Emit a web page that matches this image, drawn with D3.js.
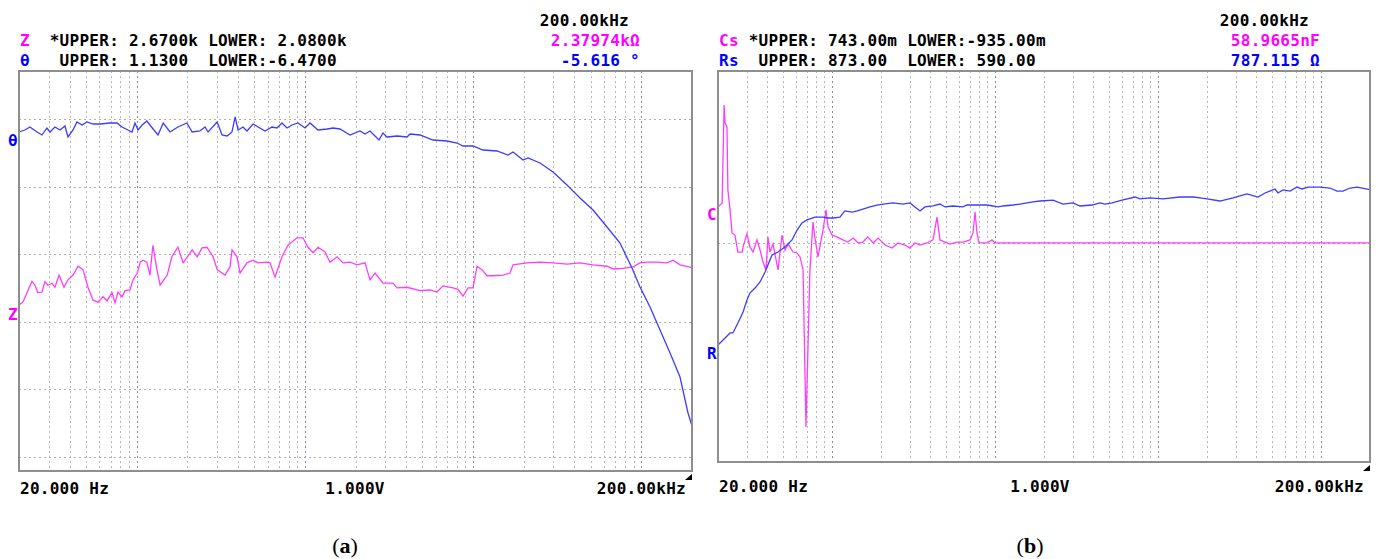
<!DOCTYPE html>
<html>
<head>
<meta charset="utf-8">
<style>
  body { margin: 0; background: #fff; }
  svg text.mono { font-family: "DejaVu Sans Mono", monospace; font-weight: bold; font-size: 16px; letter-spacing: 0.27px; }
  svg text.cap { font-family: "Liberation Serif", "DejaVu Serif", serif; font-size: 22px; }
</style>
</head>
<body>
<script src="https://d3js.org/d3.v7.min.js"></script>
<svg id="chart" width="1378" height="559"></svg>
<script>
// sweep readings, [frequency Hz, value]
// (a) impedance |Z| in kOhm and phase in degrees
var zA = [[20,2.325],[21.1,2.329],[22.3,2.343],[23.9,2.360],[24.9,2.354],[25.9,2.343],[27.4,2.344],[28.5,2.359],[29.7,2.354],[31.4,2.357],[32.7,2.351],[34.6,2.369],[37.0,2.351],[39.1,2.362],[41.9,2.369],[44.9,2.382],[48.0,2.377],[51.4,2.351],[55.1,2.332],[59.0,2.329],[63.1,2.337],[66.7,2.331],[71.4,2.343],[74.4,2.328],[77.5,2.344],[81.9,2.337],[85.3,2.346],[91.4,2.347],[95.2,2.362],[101,2.372],[105,2.388],[109,2.391],[115,2.388],[120,2.369],[125,2.413],[132,2.377],[138,2.354],[152,2.369],[162,2.396],[176,2.410],[189,2.387],[214,2.406],[229,2.396],[245,2.409],[262,2.410],[285,2.396],[301,2.377],[335,2.369],[359,2.381],[369,2.406],[395,2.396],[412,2.372],[453,2.387],[492,2.391],[527,2.387],[596,2.388],[621,2.387],[665,2.366],[731,2.396],[794,2.413],[898,2.424],[975,2.424],[1044,2.410],[1118,2.402],[1197,2.410],[1318,2.403],[1411,2.388],[1553,2.396],[1686,2.387],[1855,2.388],[2042,2.384],[2279,2.387],[2440,2.362],[2612,2.372],[2914,2.357],[3342,2.357],[3531,2.350],[4047,2.351],[4835,2.346],[5544,2.347],[6102,2.344],[6624,2.353],[7596,2.350],[8135,2.348],[8710,2.338],[9326,2.350],[9986,2.350],[10550,2.382],[11290,2.377],[12090,2.368],[13130,2.368],[15060,2.369],[16570,2.372],[17270,2.384],[20910,2.387],[24980,2.388],[29850,2.387],[36150,2.385],[43210,2.387],[51610,2.384],[62510,2.382],[67860,2.378],[77800,2.379],[89190,2.381],[98180,2.387],[108100,2.388],[123900,2.388],[142100,2.387],[154200,2.391],[169700,2.384],[200000,2.380]];

var thetaA = [[20,-0.029],[21.7,0.009],[23.2,0.066],[25.6,-0.029],[27.4,-0.086],[29.3,0.047],[30.6,-0.029],[32.7,0.066],[35.1,0.009],[37.5,0.085],[39.1,-0.124],[41.9,0.009],[44.2,0.161],[47.4,0.104],[50.7,0.161],[55.1,0.123],[60.6,0.123],[69.5,0.142],[76.5,0.142],[81.9,0.066],[88.9,0.009],[93.9,-0.029],[97.8,0.142],[102,0.009],[108,0.104],[115,0.18],[124,0.047],[134,-0.086],[144,0.142],[158,-0.029],[176,0.066],[199,0.142],[214,-0.029],[238,-0.01],[255,0.066],[266,-0.029],[301,0.161],[322,-0.086],[345,-0.105],[369,-0.029],[385,0.256],[401,0.009],[429,0.066],[453,-0.01],[492,0.123],[527,0.066],[580,-0.01],[638,0.066],[683,0.047],[731,0.142],[783,0.047],[839,0.104],[911,0.142],[1002,0.047],[1073,0.142],[1197,0.009],[1354,0.028],[1470,0.047],[1618,0.028],[1733,-0.029],[1855,-0.086],[2128,-0.01],[2279,-0.067],[2440,-0.01],[2612,-0.105],[2759,-0.181],[2914,-0.048],[3078,-0.124],[3531,-0.105],[4047,-0.124],[4217,-0.067],[4835,-0.086],[5777,-0.181],[6998,-0.2],[8025,-0.238],[8710,-0.295],[9986,-0.295],[11450,-0.371],[13870,-0.39],[16120,-0.466],[17270,-0.409],[19800,-0.561],[21200,-0.523],[24980,-0.618],[29850,-0.789],[36150,-1.036],[43210,-1.283],[51610,-1.511],[62510,-1.834],[74660,-2.138],[87990,-2.613],[98180,-2.974],[112600,-3.354],[129100,-3.791],[148100,-4.228],[169700,-4.684],[189400,-5.368],[200000,-5.616]];

// (b) series capacitance (screen units) and series resistance in Ohm
var csB = [[20,0.159],[21.2,0.177],[21.8,0.597],[22.1,0.520],[22.7,0.503],[23.0,0.232],[23.7,0.147],[24.4,0.048],[25.4,0.039],[26.5,-0.034],[28.1,-0.034],[28.5,-0.012],[30.1,0.044],[31.4,-0.012],[32.8,-0.034],[34.7,0.018],[36.2,-0.025],[37.8,-0.077],[39.4,-0.111],[40.5,0.031],[41.7,-0.034],[43.5,0.001],[46.7,-0.111],[49.4,0.039],[51.5,-0.025],[53.8,0.001],[57.7,-0.034],[61.1,-0.038],[63.7,-0.055],[66.5,-0.111],[69.3,-0.785],[73.3,-0.111],[76.5,0.095],[78.7,0.026],[82.1,-0.055],[88.2,0.061],[92.0,0.147],[94.6,0.074],[100.1,0.039],[107,0.031],[117,0.018],[125,0.009],[135,0.026],[145,0.005],[155,0.009],[166,0.031],[179,0.005],[192,0.026],[212,-0.004],[234,-0.017],[254,0.005],[281,-0.004],[301,-0.017],[323,0.005],[347,-0.004],[383,0.005],[417,0.018],[441,0.116],[460,0.018],[494,0.009],[530,0.0],[585,0.009],[637,0.009],[703,0.018],[734,0.048],[755,0.138],[776,0.048],[799,0.005],[894,0.005],[959,0.018],[1001,0.005],[200000,0.005]];

var rsB = [[20,674.7],[22.1,679.7],[23.7,683.4],[24.7,683.4],[26.5,690.6],[28.5,698.6],[30.1,707.2],[31.4,712.3],[33.7,715.9],[36.2,720.3],[38.9,727.5],[40.0,731.1],[42.9,739.8],[46.7,742.0],[51.5,745.6],[56.9,750.7],[61.1,757.9],[65.5,763.0],[70.3,765.2],[78.7,767.3],[88.2,767.3],[94.6,766.6],[101.5,766.6],[112,767.3],[120,771.7],[133,770.9],[143,771.7],[155,773.1],[171,774.6],[189,776.0],[206,776.7],[237,777.5],[273,776.7],[301,777.5],[323,774.6],[347,771.7],[372,774.6],[417,775.3],[460,776.7],[494,774.6],[553,775.3],[637,774.6],[674,776.0],[776,776.0],[894,776.0],[973,775.3],[1045,774.6],[1121,775.3],[1291,776.0],[1425,776.7],[1573,777.5],[1712,778.2],[1890,778.9],[2271,779.6],[2616,776.7],[3013,777.5],[3327,775.3],[3941,776.0],[4413,777.5],[4733,776.7],[5228,777.5],[6021,779.6],[7231,781.8],[7763,780.4],[8941,781.1],[10740,780.4],[13660,781.8],[16410,781.8],[18120,781.1],[20000,780.4],[24040,778.9],[28880,781.1],[35200,784.0],[41110,781.8],[45390,784.7],[52280,787.6],[54530,784.7],[58520,786.9],[64610,786.1],[71310,789.0],[76520,787.6],[83300,789.0],[98700,789.0],[113700,788.3],[125500,786.1],[136600,786.1],[150800,788.3],[166500,789.0],[200000,787.1]];

var sweep = [20, 200000];
var zRange = [2.08, 2.67], thetaRange = [-6.47, 1.13];
var csRange = [-0.935, 0.743], rsRange = [590, 873];
var csRef = 0.005;

var MAG = "#ff00ff", BLUE = "#0000ff";
var MAG_LINE = "#ff3cff", BLUE_LINE = "#3c3cff";

var svg = d3.select("#chart");

function drawPanel(p) {
  var g = svg.append("g");
  var x = d3.scaleLog().domain(sweep).range([p.left, p.right]);

  // vertical grid at 1..9 of every decade
  var vt = [];
  for (var e = 1; e <= 5; e++) {
    for (var k = 1; k <= 9; k++) {
      var f = k * Math.pow(10, e);
      if (f > sweep[0] && f < sweep[1]) vt.push({f: f, major: k == 1});
    }
  }
  g.selectAll(".vg").data(vt).enter().append("line")
    .attr("x1", function(d) { return Math.round(x(d.f)) + 0.5; })
    .attr("x2", function(d) { return Math.round(x(d.f)) + 0.5; })
    .attr("y1", p.top).attr("y2", p.bottom)
    .attr("stroke", function(d) { return d.major ? "#8c88aa" : "#b8b8b8"; })
    .attr("stroke-width", 1)
    .attr("stroke-dasharray", "2,3");

  // horizontal grid
  g.selectAll(".hg").data(p.hgrid).enter().append("line")
    .attr("x1", p.left).attr("x2", p.right)
    .attr("y1", function(d) { return Math.round(d) + 0.5; })
    .attr("y2", function(d) { return Math.round(d) + 0.5; })
    .attr("stroke", "#b0b0b0")
    .attr("stroke-width", 1)
    .attr("stroke-dasharray", "2,3");

  // traces
  p.series.forEach(function(s) {
    var y = d3.scaleLinear().domain(s.range).range([p.bottom, p.top]);
    var line = d3.line().x(function(d) { return x(d[0]); }).y(function(d) { return y(d[1]); });
    g.append("path").datum(s.data)
      .attr("d", line)
      .attr("fill", "none")
      .attr("stroke", s.color)
      .attr("stroke-width", 1.3);
  });

  // frame
  g.append("rect")
    .attr("x", p.left).attr("y", p.top)
    .attr("width", p.right - p.left).attr("height", p.bottom - p.top)
    .attr("fill", "none").attr("stroke", "#8e8e8e").attr("stroke-width", 2);

  // little end marker
  g.append("path")
    .attr("d", "M" + (p.right - 7) + "," + (p.bottom + 9) + "L" + p.right + "," + (p.bottom + 9) + "L" + p.right + "," + (p.bottom + 3) + "Z")
    .attr("fill", "#000");

  // trace letters on the left
  p.marks.forEach(function(m) {
    g.append("text").attr("class", "mono")
      .attr("x", p.left - 11).attr("y", m.y)
      .attr("fill", m.color).text(m.t);
  });

  // header
  g.append("text").attr("class", "mono")
    .attr("x", p.hdrRight - 11).attr("y", 26).attr("text-anchor", "end")
    .attr("fill", "#000").text("200.00kHz");

  p.rows.forEach(function(r, i) {
    var t = g.append("text").attr("class", "mono")
      .attr("x", p.left + 1).attr("y", 46 + i * 20)
      .attr("xml:space", "preserve");
    t.append("tspan").attr("fill", r.color).text(r.name);
    t.append("tspan").attr("fill", "#000").text(r.limits);
    g.append("text").attr("class", "mono")
      .attr("x", p.hdrRight).attr("y", 46 + i * 20)
      .attr("text-anchor", "end")
      .attr("fill", r.color).text(r.value);
  });

  // footer
  g.append("text").attr("class", "mono")
    .attr("x", p.left + 1).attr("y", p.footY).attr("fill", "#000").text("20.000 Hz");
  g.append("text").attr("class", "mono")
    .attr("x", p.mid).attr("y", p.footY).attr("text-anchor", "middle").attr("fill", "#000").text("1.000V");
  g.append("text").attr("class", "mono")
    .attr("x", p.right - 6).attr("y", p.footY).attr("text-anchor", "end").attr("fill", "#000").text("200.00kHz");

  var cap = g.append("text").attr("class", "cap")
    .attr("x", p.mid - 10).attr("y", 553).attr("text-anchor", "middle").attr("fill", "#000");
  cap.append("tspan").text("(");
  cap.append("tspan").attr("font-weight", "bold").text(p.caption);
  cap.append("tspan").text(")");
}

var aTop = 71;
drawPanel({
  left: 19, right: 692, top: aTop, bottom: 471,
  hgrid: d3.range(6).map(function(i) { return aTop + 48 + i * 67.6; }),
  series: [
    {data: zA, range: zRange, color: MAG_LINE},
    {data: thetaA, range: thetaRange, color: BLUE_LINE}
  ],
  marks: [{t: "θ", y: 146, color: BLUE}, {t: "Z", y: 320, color: MAG}],
  rows: [
    {name: "Z", limits: "  *UPPER: 2.6700k LOWER: 2.0800k", value: "2.37974kΩ", color: MAG},
    {name: "θ", limits: "   UPPER: 1.1300  LOWER:-6.4700", value: "-5.616 °", color: BLUE}
  ],
  hdrRight: 640, footY: 494, mid: 355, caption: "a"
});

var bTop = 71, bBottom = 462;
var csScale = d3.scaleLinear().domain(csRange).range([bBottom, bTop]);
drawPanel({
  left: 718, right: 1370, top: bTop, bottom: bBottom,
  hgrid: [csScale(csRef)],
  series: [
    {data: csB, range: csRange, color: MAG_LINE},
    {data: rsB, range: rsRange, color: BLUE_LINE}
  ],
  marks: [{t: "C", y: 220, color: MAG}, {t: "R", y: 359, color: BLUE}],
  rows: [
    {name: "Cs", limits: " *UPPER: 743.00m LOWER:-935.00m", value: "58.9665nF", color: MAG},
    {name: "Rs", limits: "  UPPER: 873.00  LOWER: 590.00", value: "787.115 Ω", color: BLUE}
  ],
  hdrRight: 1320, footY: 492, mid: 1040, caption: "b"
});
</script>
</body>
</html>
